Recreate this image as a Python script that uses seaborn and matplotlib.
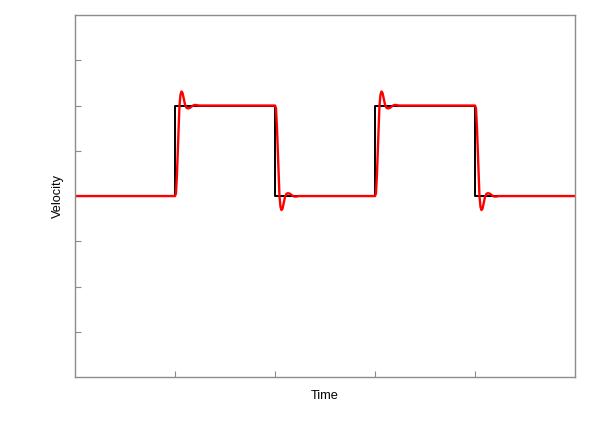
import numpy as np
import pandas as pd
import matplotlib
matplotlib.use("Agg")
import matplotlib.pyplot as plt
import seaborn as sns

# square-wave command: time / level at each corner
cmd_t = [0, 1, 1, 2, 2, 3, 3, 4, 4, 5]
cmd_v = [0, 0, 1, 1, 0, 0, 1, 1, 0, 0]

# measured response near each edge (offset after the edge, level)
edge_t = [1, 2, 3, 4]
edge_up = [True, False, True, False]
resp_dt = [0.0, 0.01, 0.02, 0.03, 0.04, 0.045, 0.055, 0.065, 0.075, 0.085,
           0.10, 0.115, 0.13, 0.15, 0.17, 0.19, 0.21, 0.24, 0.28]
rise_v = [0.0, 0.03, 0.25, 0.55, 0.86, 1.0, 1.12, 1.155, 1.14, 1.09,
          1.01, 0.975, 0.968, 0.975, 0.992, 1.005, 1.006, 1.0, 1.0]
fall_v = [1.0, 0.97, 0.75, 0.45, 0.14, 0.0, -0.12, -0.155, -0.14, -0.09,
          -0.01, 0.025, 0.032, 0.025, 0.008, -0.005, -0.006, 0.0, 0.0]

rows = [(0.0, 0.0)]
for t0, up in zip(edge_t, edge_up):
    vals = rise_v if up else fall_v
    rows += [(t0 + d, v) for d, v in zip(resp_dt, vals)]
rows.append((5.0, 0.0))
resp = pd.DataFrame(rows, columns=["t", "v"])
cmd = pd.DataFrame({"t": cmd_t, "v": cmd_v})

sns.set_style("white")
plt.rcParams["font.family"] = ["Liberation Sans", "DejaVu Sans"]

fig = plt.figure(figsize=(6, 4.29), dpi=100)
ax = fig.add_axes([0.125, 0.121, 0.8333, 0.844])

sns.lineplot(data=cmd, x="t", y="v", color="black", lw=1.4, ax=ax,
             sort=False, estimator=None)
sns.lineplot(data=resp, x="t", y="v", color="#ff0000", lw=1.7, ax=ax,
             sort=False, estimator=None)

ax.set_xlim(0, 5)
ax.set_ylim(-2, 2)
ax.set_xticks([1, 2, 3, 4])
ax.set_yticks([-1.5, -1, -0.5, 0, 0.5, 1, 1.5])
ax.tick_params(direction="in", length=4, width=0.8, color="#8c8c8c",
               labelbottom=False, labelleft=False, bottom=True, left=True,
               top=False, right=False)
for s in ax.spines.values():
    s.set_color("#8c8c8c")
    s.set_linewidth(1.0)

ax.set_xlabel("Time", fontsize=9.2, color="black", labelpad=9)
ax.set_ylabel("Velocity", fontsize=9.2, color="black", labelpad=8)

fig.savefig("out.png", dpi=100)
